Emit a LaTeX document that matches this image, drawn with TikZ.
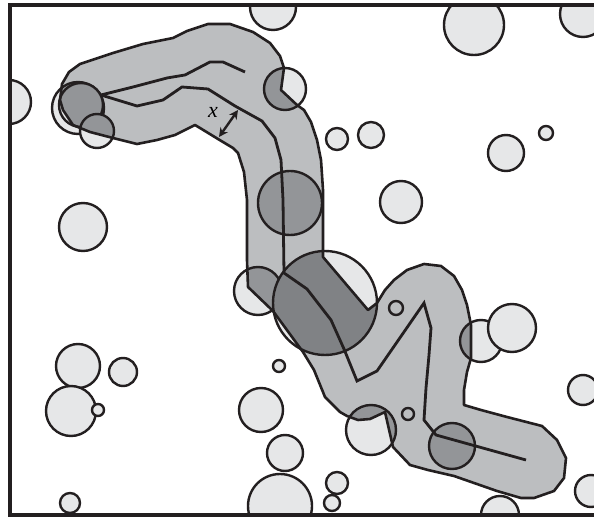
\documentclass[tikz,border=0pt]{standalone}
\usepackage{fontspec}
\setmainfont{Liberation Serif}
\usetikzlibrary{arrows.meta}
\definecolor{lightc}{HTML}{E6E7E8}
\definecolor{tubec}{HTML}{BCBEC0}
\definecolor{darkc}{HTML}{939598}
\definecolor{darkerc}{HTML}{808285}
\definecolor{linec}{HTML}{231F20}
\def\tubepath{(60,100) -- (62,84) -- (69,72) -- (80,64) -- (95,59) -- (113,53) -- (143,44) -- (173,38) -- (187,31) -- (208,24) -- (230,24) -- (253,32) -- (270,43) -- (280,56) -- (284,68) -- (281,90) -- (297,105) -- (304,110) -- (311,122) -- (317,140) -- (321,160) -- (323,190) -- (323,257) -- (368,310) -- (377,303) -- (385,290) -- (394,280) -- (407,270) -- (424,264) -- (441,266) -- (454,276) -- (462,290) -- (467,305) -- (471,325) -- (471,358) -- (467,372) -- (464,390) -- (464,405) -- (481,410) -- (507,417) -- (542,426) -- (557,440) -- (566,458) -- (564,478) -- (554,491) -- (534,498) -- (521,498) -- (497,491) -- (454,476) -- (428,470) -- (410,465) -- (393,447) -- (385,412) -- (370,419) -- (358,420) -- (347,416) -- (340,412) -- (325,397) -- (314,370) -- (303,352) -- (273,311) -- (248,287) -- (247,260) -- (247,200) -- (244,172) -- (238,153) -- (233,148) -- (218,139) -- (200,128) -- (195,125) -- (175,135) -- (157,140) -- (137,144) -- (113,138) -- (90,132) -- (73,125) -- (63,110) -- cycle}
\begin{document}
\begin{tikzpicture}[x=1pt,y=-1pt,
  circ/.style={fill=lightc,draw=linec,line width=2.4pt},
  darkcirc/.style={fill=darkc,draw=linec,line width=2.4pt},
  darkercirc/.style={fill=darkerc,draw=linec,line width=2.4pt},
  ringline/.style={draw=linec,line width=2.4pt},
  tubeline/.style={draw=linec,line width=2.6pt,line join=round},
  pathline/.style={draw=linec,line width=2.8pt,line join=miter},
  frameline/.style={draw=linec,line width=3.5pt},
  dimarrow/.style={draw=linec,line width=2.4pt,{Stealth[length=9pt,width=9pt]}-{Stealth[length=9pt,width=9pt]}}]
\useasboundingbox (0,0) rectangle (594,518);
\fill[white] (0,0) rectangle (594,518);
\begin{scope}
\clip (10,5) rectangle (600,515);
% light circles
\foreach \cx/\cy/\r in {273/7/23, 9/102/22, 78/108/26, 81/105/22, 97/131/17, 83/227/24,
  285/89/21, 290/203/32, 474/25/30, 583/14/23, 337/139/11, 371/135/13, 546/133/7,
  506/153/18, 401/202/21, 258/291/24, 325/303/52, 78/366/22, 123/372/14, 71/411/25,
  98/410/6, 70/503/10, 279/366/6, 261/410/22, 285/453/18, 280/506/32, 371/430/25,
  452/446/23, 481/341/21, 512/328/24, 583/390/15, 591/491/16, 337/483/11, 332/503/8,
  500/515/19}
  {\path[circ] (\cx,\cy) circle[radius=\r pt];}
% tube
\fill[tubec] \tubepath;
\begin{scope}
\clip \tubepath;
\foreach \cx/\cy/\r in {78/108/26, 81/105/22, 97/131/17, 285/89/21, 290/203/32, 258/291/24}
  {\path[darkcirc] (\cx,\cy) circle[radius=\r pt];}
\path[darkercirc] (325,303) circle[radius=52pt];
\foreach \cx/\cy/\r in {371/430/25, 452/446/23, 481/341/21}
  {\path[darkcirc] (\cx,\cy) circle[radius=\r pt];}
\path[ringline] (396,308) circle[radius=7pt];
\path[ringline] (408,414) circle[radius=6pt];
\end{scope}
\path[tubeline] \tubepath;
% trajectory lines
\path[pathline] (101,95) -- (133,87) -- (167,78) -- (185,75) -- (210,62) -- (223,62) -- (245,72);
\path[pathline] (101,95) -- (137,106) -- (163,100) -- (182,87) -- (208,89) -- (235,106) -- (262,121) -- (275,138) -- (281,160) -- (283,200) -- (284,273) -- (307,289) -- (331,320) -- (344,349) -- (357,381) -- (377,371) -- (424,303) -- (431,328) -- (429,355) -- (426,388) -- (424,420) -- (436,435) -- (526,460);
% dimension arrow
\coordinate (xa) at (219,137);
\coordinate (xb) at (238,110);
\path[dimarrow] (xa) -- (xb);
\node[inner sep=0pt, font=\fontsize{22}{22}\selectfont\itshape] (xl) at (213,112) {x};
\end{scope}
\path[frameline] (600,5) -- (10,5) -- (10,515) -- (600,515);
\end{tikzpicture}
\end{document}
